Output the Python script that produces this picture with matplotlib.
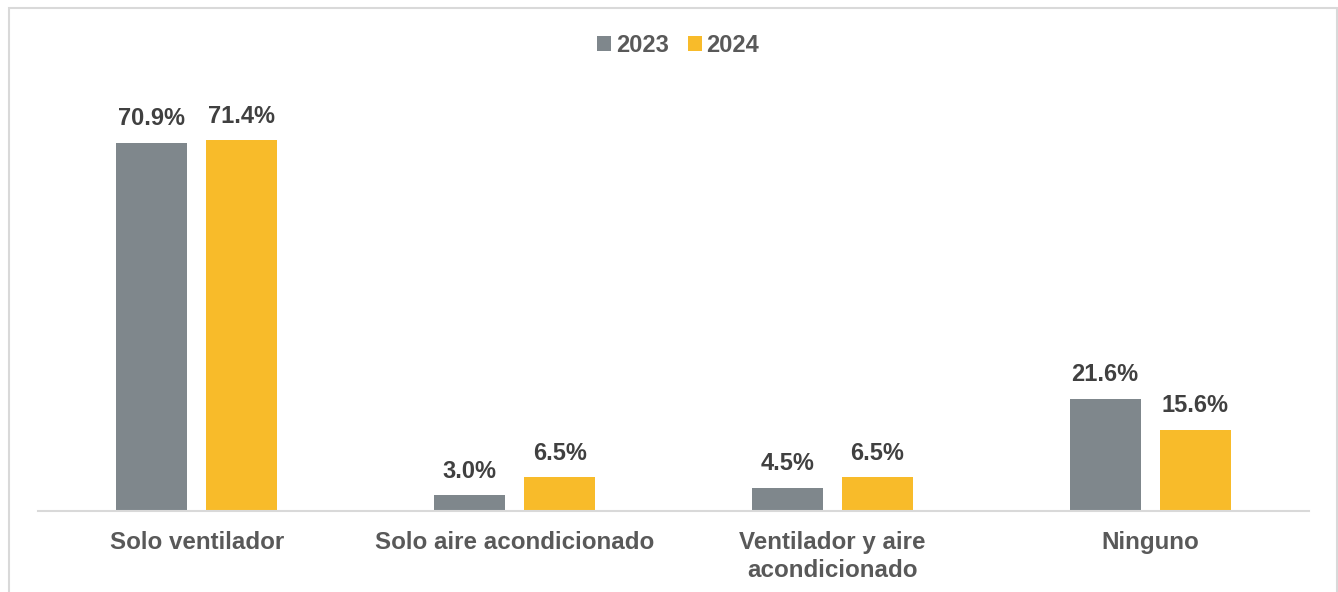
import matplotlib
matplotlib.use("Agg")
import matplotlib.pyplot as plt
from matplotlib.patches import Rectangle
import numpy as np

plt.rcParams['font.family'] = ['Liberation Sans', 'DejaVu Sans']

categories = ["Solo ventilador", "Solo aire acondicionado", "Ventilador y aire\nacondicionado", "Ninguno"]
series_names = ["2023", "2024"]
values_2023 = [70.9, 3.0, 4.5, 21.6]
values_2024 = [71.4, 6.5, 6.5, 15.6]

c2023 = "#7F878C"
c2024 = "#F8BB2A"

fig = plt.figure(figsize=(13.38, 5.92), dpi=100)
ax = fig.add_axes([38/1338, 1-511/592, (1309-38)/1338, (511-80)/592])

x = np.arange(len(categories))
w = 0.2235
off = 0.1417
b1 = ax.bar(x - off, values_2023, w, color=c2023, label=series_names[0])
b2 = ax.bar(x + off, values_2024, w, color=c2024, label=series_names[1])

for bars, vals in ((b1, values_2023), (b2, values_2024)):
    for r, v in zip(bars, vals):
        ax.annotate(f"{v:.1f}%", (r.get_x() + r.get_width()/2, v),
                    xytext=(0, 9), textcoords="offset points",
                    ha="center", va="bottom", fontsize=17, fontweight="bold",
                    color="#404040")

ax.set_xlim(-0.5, len(categories) - 0.5)
ax.set_ylim(0, 83)
ax.set_xticks(x)
ax.set_xticklabels(categories, fontsize=17.4, fontweight="bold", color="#595959",
                   linespacing=1.27)
ax.tick_params(axis="x", length=0, pad=14.5)
ax.set_yticks([])
for s in ("top", "right", "left"):
    ax.spines[s].set_visible(False)
ax.spines["bottom"].set_color("#D9D9D9")
ax.spines["bottom"].set_linewidth(1.5)

leg = fig.legend(handles=[b1, b2], labels=series_names, loc="center",
                 bbox_to_anchor=(678/1338, 1-45/592), ncol=2, frameon=False,
                 handlelength=0.6, handleheight=0.6, handletextpad=0.2,
                 columnspacing=0.8,
                 prop={"size": 17, "weight": "bold"})
for t in leg.get_texts():
    t.set_color("#595959")

fig.patches.append(Rectangle((9/1338, -0.01), (1337-9)/1338, 1-8/592 + 0.01,
                             transform=fig.transFigure, fill=False,
                             edgecolor="#D9D9D9", linewidth=1.5))

fig.savefig("out.png", dpi=100)
